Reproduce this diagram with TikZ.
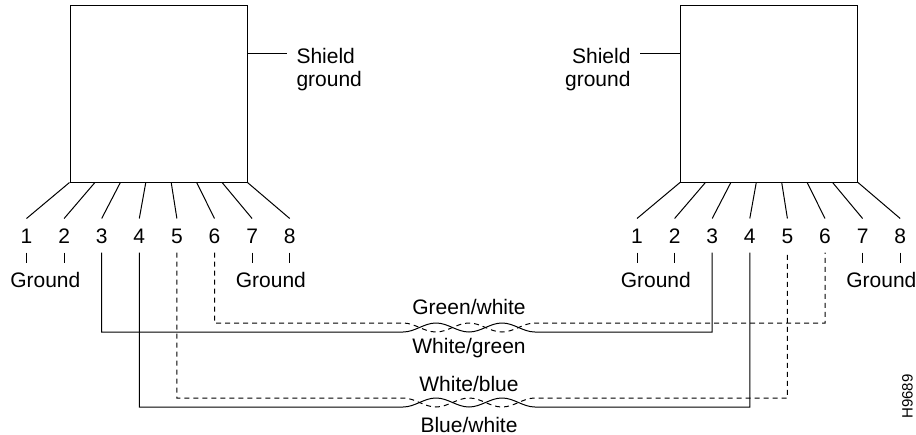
\documentclass[tikz,border=0pt]{standalone}
\usepackage{fontspec}
\setmainfont{Liberation Sans}
\usetikzlibrary{calc}

\tikzset{
  jack/.style={draw, minimum width=88.5pt, minimum height=88.5pt, inner sep=0pt},
  pinnum/.style={inner xsep=0pt, inner ysep=4.5pt, text height=7.5pt, text depth=0pt},
  shieldlabel/.style={inner sep=0pt, align=left},
  pairlabel/.style={inner sep=0pt, anchor=base},
  pairdash/.style={dash pattern=on 2.5pt off 2pt},
}

\begin{document}
\begin{tikzpicture}[x=0.5pt,y=-0.5pt,line width=0.5pt,
    every node/.style={font=\fontsize{10.5}{11.5}\selectfont}]
    \useasboundingbox (0,0) rectangle (916,434);
    % connectors
    \node[jack] (lbox) at (158.5,93.5) {};
    \node[jack] (rbox) at (769,93.5) {};
    % shield ground
    \coordinate (lsg) at (287,53);
    \coordinate (rsg) at (640,53);
    \draw (lbox.east |- lsg) -- (lsg);
    \draw (rbox.west |- rsg) -- (rsg);
    \node[shieldlabel, anchor=north west] (lshield) at ([shift={(9,-5)}]lsg) {Shield\\ground};
    \node[shieldlabel, anchor=north east, align=right] (rshield) at ([shift={(-9,-5)}]rsg) {Shield\\ground};
    % pins
    \foreach \i [evaluate=\i as \f using (\i-1)/7] in {1,...,8}{
        \node[pinnum] (l\i) at ({26.5+37.6*(\i-1)},235.5) {\i};
        \node[pinnum] (r\i) at ({637+37.6*(\i-1)},235.5) {\i};
        \draw ($(lbox.south west)!\f!(lbox.south east)$) -- (l\i.north);
        \draw ($(rbox.south west)!\f!(rbox.south east)$) -- (r\i.north);
    }
    % ground
    \node[pinnum, anchor=base] (lg12) at (45.3,287) {Ground};
    \node[pinnum, anchor=base] (lg78) at (270.9,287) {Ground};
    \node[pinnum, anchor=base] (rg12) at (655.8,287) {Ground};
    \node[pinnum, anchor=base] (rg78) at (881.4,287) {Ground};
    \foreach \p/\g in {l1/lg12,l2/lg12,l7/lg78,l8/lg78,r1/rg12,r2/rg12,r7/rg78,r8/rg78}
        \draw (\p.south) -- (\p.south |- \g.north);
    % twisted pairs
    \coordinate (tw3) at (403,332);
    \coordinate (tw6) at (403,323);
    \coordinate (tw4) at (403,407);
    \coordinate (tw5) at (403,398);
    \draw (l3.south) |- (tw3) cos ++(16.5,-4.5) sin ++(16.5,-4.5) cos ++(16.5,4.5) sin ++(16.5,4.5)
        cos ++(16.5,-4.5) sin ++(16.5,-4.5) cos ++(16.5,4.5) sin ++(16.5,4.5) -- (r3.south |- tw3) -- (r3.south);
    \draw[pairdash] (l6.south) |- (tw6) cos ++(16.5,4.5) sin ++(16.5,4.5) cos ++(16.5,-4.5) sin ++(16.5,-4.5)
        cos ++(16.5,4.5) sin ++(16.5,4.5) cos ++(16.5,-4.5) sin ++(16.5,-4.5) -- (r6.south |- tw6) -- (r6.south);
    \draw (l4.south) |- (tw4) cos ++(16.5,-4.5) sin ++(16.5,-4.5) cos ++(16.5,4.5) sin ++(16.5,4.5)
        cos ++(16.5,-4.5) sin ++(16.5,-4.5) cos ++(16.5,4.5) sin ++(16.5,4.5) -- (r4.south |- tw4) -- (r4.south);
    \draw[pairdash] (l5.south) |- (tw5) cos ++(16.5,4.5) sin ++(16.5,4.5) cos ++(16.5,-4.5) sin ++(16.5,-4.5)
        cos ++(16.5,4.5) sin ++(16.5,4.5) cos ++(16.5,-4.5) sin ++(16.5,-4.5) -- (r5.south |- tw5) -- (r5.south);
    \node[pairlabel] (gw) at (469,314) {Green/white};
    \node[pairlabel] (wg) at (469,353) {White/green};
    \node[pairlabel] (wb) at (469,391) {White/blue};
    \node[pairlabel] (bw) at (469,432) {Blue/white};
    \node[rotate=90, inner sep=0pt, font=\fontsize{7.5}{9}\selectfont] (fignum) at (907.5,396.5) {H9689};
\end{tikzpicture}
\end{document}
